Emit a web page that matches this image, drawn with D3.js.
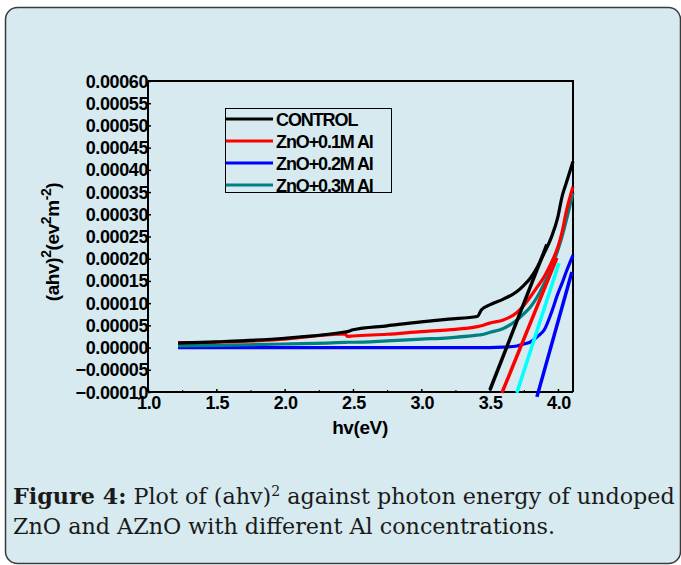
<!DOCTYPE html>
<html>
<head>
<meta charset="utf-8">
<script src="https://cdn.jsdelivr.net/npm/d3@7"></script>
<style>
  body { margin: 0; background: #ffffff; }
  svg { display: block; }
</style>
</head>
<body>
<div id="main"></div>
<script>
// photon energy (eV) grid that the curves are read on
const energy = [1.22, 1.5, 2.0, 2.44, 2.46, 2.5, 2.75, 3.0, 3.2, 3.41, 3.44, 3.5, 3.6, 3.7, 3.75, 3.8, 3.85, 3.9, 3.95, 4.0, 4.03, 4.06, 4.11];

const control = [1.0e-5, 1.3e-5, 2.1e-5, 3.5e-5, 3.6e-5, 4.0e-5, 4.9e-5, 5.8e-5, 6.4e-5, 7.0e-5, 8.5e-5, 9.6e-5, 1.09e-4, 1.26e-4, 1.40e-4, 1.57e-4, 1.82e-4, 2.13e-4, 2.47e-4, 2.95e-4, 3.40e-4, 3.70e-4, 4.19e-4];
const al01 = [1.1e-5, 1.2e-5, 1.9e-5, 3.1e-5, 2.5e-5, 2.6e-5, 3.0e-5, 3.6e-5, 4.0e-5, 4.7e-5, 4.9e-5, 5.5e-5, 6.2e-5, 7.9e-5, 9.5e-5, 1.15e-4, 1.37e-4, 1.60e-4, 1.90e-4, 2.27e-4, 2.60e-4, 3.05e-4, 3.62e-4];
const al02 = [0, 0, 0, 0, 0, 0, 0, 0, 0, 0, 0, 0, 1.0e-6, 3.6e-6, 8.0e-6, 1.3e-5, 2.5e-5, 4.0e-5, 7.7e-5, 1.22e-4, 1.45e-4, 1.70e-4, 2.08e-4];
const al03 = [3.6e-6, 5.0e-6, 8.0e-6, 1.15e-5, 1.2e-5, 1.2e-5, 1.5e-5, 1.9e-5, 2.2e-5, 2.8e-5, 2.9e-5, 3.4e-5, 4.3e-5, 6.2e-5, 7.6e-5, 9.2e-5, 1.15e-4, 1.45e-4, 1.79e-4, 2.20e-4, 2.50e-4, 2.85e-4, 3.48e-4];

const seriesNames = ["CONTROL", "ZnO+0.1M Al", "ZnO+0.2M Al", "ZnO+0.3M Al"];
const seriesColors = ["#000000", "#ff0000", "#0000ff", "#008080"];

// linear fits drawn to find the band gap: [startEnergy, endEnergy], [startValue, endValue]
const fitEnergy = [[3.502, 3.919], [3.590, 3.992], [3.699, 4.007], [3.846, 4.102]];
const fitValue = [[-9.55e-5, 2.32e-4], [-1.02e-4, 2.02e-4], [-1.02e-4, 1.90e-4], [-1.11e-4, 1.70e-4]];
const fitColors = ["#000000", "#ff0000", "#00ffff", "#0000ff"];

const xTicks = [1.0, 1.5, 2.0, 2.5, 3.0, 3.5, 4.0];
const xMinorTicks = [1.25, 1.75, 2.25, 2.75, 3.25, 3.75];
const yTicks = [-0.0001, -0.00005, 0, 0.00005, 0.0001, 0.00015, 0.0002, 0.00025, 0.0003, 0.00035, 0.0004, 0.00045, 0.0005, 0.00055, 0.0006];

const W = 681, H = 565;
const plot = { left: 148, right: 573, top: 81, bottom: 392 };
const bg = "#d6eaf0";

const svg = d3.select("#main")
  .append("svg")
  .attr("width", W)
  .attr("height", H);

svg.append("rect")
  .attr("x", 5.5)
  .attr("y", 7.5)
  .attr("width", 675)
  .attr("height", 556)
  .attr("rx", 12)
  .attr("fill", bg)
  .attr("stroke", "#3a3a3a")
  .attr("stroke-width", 1.5);

const x = d3.scaleLinear().domain([1.0, 4.11]).range([plot.left, plot.right]);
const y = d3.scaleLinear().domain([-0.0001, 0.0006]).range([plot.bottom, plot.top]);

const font = "'Liberation Sans', Arial, sans-serif";

// axes
const yAxis = svg.append("g")
  .attr("transform", `translate(${plot.left},0)`)
  .call(d3.axisRight(y).tickValues(yTicks).tickSize(3).tickFormat(""));
yAxis.select(".domain").attr("stroke-width", 2).attr("d", `M0,${plot.top}V${plot.bottom}`);
yAxis.selectAll(".tick line").attr("stroke-width", 1.5);

svg.append("g")
  .selectAll("text")
  .data(yTicks)
  .enter()
  .append("text")
  .attr("x", plot.left)
  .attr("y", d => y(d) + 6.5)
  .attr("text-anchor", "end")
  .attr("font-family", font)
  .attr("font-weight", "bold")
  .attr("font-size", "18px")
  .attr("letter-spacing", "-0.4px")
  .text(d => d3.format(".5f")(d));

const xAxis = svg.append("g")
  .attr("transform", `translate(0,${plot.bottom})`)
  .call(d3.axisTop(x).tickValues(xTicks).tickSize(3).tickFormat(""));
xAxis.select(".domain").attr("stroke-width", 2).attr("d", `M${plot.left},0H${plot.right}`);
xAxis.selectAll(".tick line").attr("stroke-width", 1.5);

svg.append("g")
  .attr("transform", `translate(0,${plot.bottom})`)
  .call(d3.axisTop(x).tickValues(xMinorTicks).tickSize(2).tickFormat(""))
  .call(g => g.select(".domain").remove());

svg.append("g")
  .selectAll("text")
  .data(xTicks)
  .enter()
  .append("text")
  .attr("x", d => x(d) + 1)
  .attr("y", plot.bottom + 17)
  .attr("text-anchor", "middle")
  .attr("font-family", font)
  .attr("font-weight", "bold")
  .attr("font-size", "18px")
  .attr("letter-spacing", "-0.4px")
  .text(d => d.toFixed(1));

// top and right frame
svg.append("path")
  .attr("d", `M${plot.left},${plot.top}H${plot.right}V${plot.bottom}`)
  .attr("fill", "none")
  .attr("stroke", "#000")
  .attr("stroke-width", 2);

// titles
svg.append("text")
  .attr("x", 360)
  .attr("y", 434)
  .attr("text-anchor", "middle")
  .attr("font-family", font)
  .attr("font-weight", "bold")
  .attr("font-size", "19px")
  .attr("letter-spacing", "-0.4px")
  .text("hv(eV)");

const yTitle = svg.append("text")
  .attr("transform", "translate(59,242) rotate(-90)")
  .attr("text-anchor", "middle")
  .attr("font-family", font)
  .attr("font-weight", "bold")
  .attr("font-size", "19px")
  .attr("letter-spacing", "-0.4px");
yTitle.append("tspan").text("(ahv)");
yTitle.append("tspan").attr("dy", -8).attr("font-size", "14px").text("2");
yTitle.append("tspan").attr("dy", 8).text("(ev");
yTitle.append("tspan").attr("dy", -8).attr("font-size", "14px").text("2");
yTitle.append("tspan").attr("dy", 8).text("m");
yTitle.append("tspan").attr("dy", -8).attr("font-size", "14px").text("-2");
yTitle.append("tspan").attr("dy", 8).text(")");

// curves
const allSeries = [control, al01, al02, al03];
const line = d3.line()
  .x(d => x(d[0]))
  .y(d => y(d[1]));
const smoothLine = d3.line()
  .x(d => x(d[0]))
  .y(d => y(d[1]))
  .curve(d3.curveMonotoneX);

const drawOrder = [2, 3, 1, 0];
svg.append("g")
  .selectAll("path")
  .data(drawOrder)
  .enter()
  .append("path")
  .attr("d", i => smoothLine(energy.map((e, j) => [e, allSeries[i][j]])))
  .attr("fill", "none")
  .attr("stroke", i => seriesColors[i])
  .attr("stroke-width", 3.2)
  .attr("stroke-linejoin", "round");

// band gap fits
svg.append("g")
  .selectAll("path")
  .data(fitEnergy)
  .enter()
  .append("path")
  .attr("d", (d, i) => line([[d[0], fitValue[i][0]], [d[1], fitValue[i][1]]]))
  .attr("stroke", (d, i) => fitColors[i])
  .attr("stroke-width", 3.5);

// legend
const legend = svg.append("g").attr("id", "legend");
legend.append("rect")
  .attr("x", 225.5)
  .attr("y", 108.5)
  .attr("width", 166)
  .attr("height", 84)
  .attr("fill", "none")
  .attr("stroke", "#000")
  .attr("stroke-width", 1);

const legendRow = d3.scaleLinear().domain([0, 3]).range([119, 185]);
legend.selectAll("line")
  .data(seriesNames)
  .enter()
  .append("line")
  .attr("x1", 226)
  .attr("x2", 273)
  .attr("y1", (d, i) => legendRow(i))
  .attr("y2", (d, i) => legendRow(i))
  .attr("stroke", (d, i) => seriesColors[i])
  .attr("stroke-width", 3);

legend.selectAll("text")
  .data(seriesNames)
  .enter()
  .append("text")
  .attr("x", 276)
  .attr("y", (d, i) => legendRow(i) + 6.5)
  .attr("font-family", font)
  .attr("font-weight", "bold")
  .attr("font-size", "18px")
  .attr("letter-spacing", "-1.1px")
  .text(d => d);

// caption
const serif = "'DejaVu Serif', serif";
const cap1 = svg.append("text")
  .attr("x", 13)
  .attr("y", 504)
  .attr("font-family", serif)
  .attr("font-size", "19px")
  .attr("fill", "#1a1a1a");
cap1.append("tspan").attr("font-weight", "bold").text("Figure 4:");
cap1.append("tspan").text(" Plot of (ahv)");
cap1.append("tspan").attr("dy", -8).attr("font-size", "12px").text("2");
cap1.append("tspan").attr("dy", 8).text(" against photon energy of undoped");

const cap2 = svg.append("text")
  .attr("x", 13)
  .attr("y", 534)
  .attr("font-family", serif)
  .attr("font-size", "19px")
  .attr("fill", "#1a1a1a")
  .text("ZnO and AZnO with different Al concentrations.");

// fit caption font size to the reference line width
const w1 = cap1.node().getComputedTextLength();
const scale = 662 / w1;
cap1.attr("font-size", `${19 * scale}px`);
cap1.selectAll("tspan").filter(function() { return this.getAttribute("font-size"); })
  .attr("font-size", `${12 * scale}px`);
cap2.attr("font-size", `${19 * scale}px`);
</script>
</body>
</html>
